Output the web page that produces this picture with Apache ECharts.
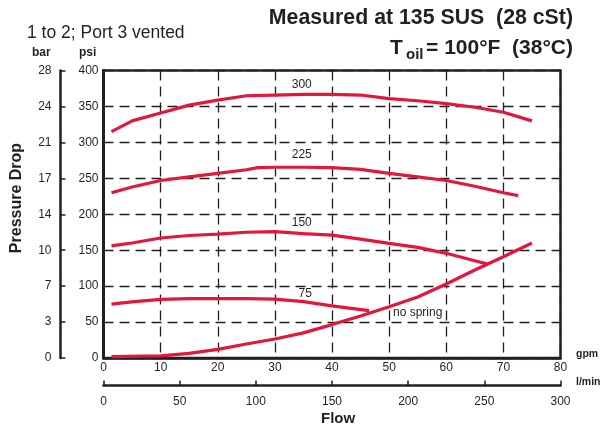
<!DOCTYPE html>
<html><head><meta charset="utf-8">
<script src="https://cdn.jsdelivr.net/npm/echarts@6/dist/echarts.min.js"></script>
<style>html,body{margin:0;padding:0;background:#fff}#c{width:605px;height:427px}</style>
</head><body><div id="c"></div>
<script>
// Data (flow in gpm, pressure drop in psi)
const gpmTicks = [0,10,20,30,40,50,60,70,80];
const psiTicks = [0,50,100,150,200,250,300,350,400];
const barLabels = ['0','3','7','10','14','17','21','24','28'];
const lpmTicks = [0,50,100,150,200,250,300];

const flow300 = [1.4, 5, 10, 15, 20, 25, 30, 35, 40, 45, 50, 55, 60, 65, 70, 75];
const psi300  = [315, 330, 341, 352, 359, 365, 366, 367, 367, 366, 361, 358, 354, 349, 342, 330];

const flow225 = [1.4, 5, 10, 15, 20, 25, 27, 30, 35, 40, 45, 50, 55, 60, 65, 70, 72.6];
const psi225  = [230, 238, 247, 252, 257, 262, 265, 265.5, 265.5, 265, 262.5, 257, 252, 247, 239, 230, 226];

const flow150 = [1.4, 5, 10, 15, 20, 25, 30, 35, 40, 45, 50, 55, 60, 65, 67.1];
const psi150  = [156, 160, 167, 170.5, 172.5, 175, 175.8, 173, 171, 165.5, 159.6, 154, 145.7, 135.4, 131];

const flow75 = [1.4, 5, 10, 15, 20, 25, 30, 35, 40, 43, 46.5];
const psi75  = [75, 78, 81.5, 82.5, 82.5, 82.5, 82, 78.5, 72.5, 69.5, 66];

const flowNS = [1.4, 10, 15, 20, 25, 30, 35, 40, 45, 50, 55, 60, 65, 70, 75];
const psiNS  = [2, 3, 6.5, 12, 19.5, 26.4, 35, 46.5, 58.5, 71.4, 85, 103, 122.5, 141, 160];

const curveNames = ['300', '225', '150', '75', 'no spring'];
const labelFlow  = [34.7, 34.7, 34.7, 35.3, 55];
const labelPsi   = [380, 282.5, 188, 89, 63];

const RED = '#e3173d';
const INK = '#231f20';
const FONT = '"Liberation Sans", Arial, Helvetica, sans-serif';

const zip = (xs, ys) => xs.map((x, i) => [x, ys[i]]);
const lineSeries = (xs, ys) => ({
  type: 'line', data: zip(xs, ys), showSymbol: false, symbol: 'none',
  lineStyle: { color: RED, width: 3.2 }, xAxisIndex: 0, yAxisIndex: 0, z: 5, animation: false
});

const chart = echarts.init(document.getElementById('c'), null, { renderer: 'canvas' });
chart.setOption({
  animation: false,
  textStyle: { fontFamily: FONT },
  grid: { left: 103.5, top: 70.6, width: 457, height: 287.4, show: true, borderColor: INK, borderWidth: 2.5, backgroundColor: 'transparent' },
  xAxis: [
    { type: 'value', min: 0, max: 80, interval: 10, position: 'bottom',
      axisLine: { show: true, onZero: false, lineStyle: { color: INK, width: 2.5 } },
      axisTick: { show: false },
      axisLabel: { color: INK, fontSize: 12, margin: 4, fontFamily: FONT },
      splitLine: { show: true, lineStyle: { color: INK, width: 1.3, type: [10, 6] } } },
    { type: 'value', min: 0, max: 300, interval: 50, position: 'bottom', offset: 27.5,
      axisLine: { show: true, onZero: false, lineStyle: { color: INK, width: 2.5 } },
      axisTick: { show: true, inside: true, length: 5, lineStyle: { color: INK, width: 1.5 } },
      axisLabel: { color: INK, fontSize: 12, margin: 10, fontFamily: FONT },
      splitLine: { show: false } }
  ],
  yAxis: [
    { type: 'value', min: 0, max: 400, interval: 50, position: 'left',
      axisLine: { show: true, onZero: false, lineStyle: { color: INK, width: 3 } },
      axisTick: { show: false },
      axisLabel: { color: INK, fontSize: 12, margin: 5, fontFamily: FONT },
      splitLine: { show: true, lineStyle: { color: INK, width: 1.3, type: [10, 6] } } },
    { type: 'value', min: 0, max: 400, interval: 50, position: 'left', offset: 43,
      axisLine: { show: true, onZero: false, lineStyle: { color: INK, width: 2.5 } },
      axisTick: { show: true, inside: true, length: 5, lineStyle: { color: INK, width: 1.5 } },
      axisLabel: { color: INK, fontSize: 12, margin: 9, fontFamily: FONT,
        formatter: v => barLabels[psiTicks.indexOf(v)] },
      splitLine: { show: false } }
  ],
  series: [
    lineSeries(flow300, psi300),
    lineSeries(flow225, psi225),
    lineSeries(flow150, psi150),
    lineSeries(flow75, psi75),
    lineSeries(flowNS, psiNS),
    { type: 'scatter', xAxisIndex: 0, yAxisIndex: 0, symbolSize: 0, itemStyle: { color: INK, opacity: 1 }, z: 6,
      silent: true,
      data: curveNames.map((n, i) => ({ name: n, value: [labelFlow[i], labelPsi[i]] })),
      label: { show: true, position: 'inside', formatter: p => p.name, color: INK, opacity: 1, fontSize: 12, fontFamily: FONT } }
  ],
  graphic: [
    { type: 'text', left: 27, top: 24, style: { text: '1 to 2; Port 3 vented', fill: INK, font: '17.5px ' + FONT } },
    { type: 'text', right: 32, top: 8, style: { text: 'Measured at 135 SUS  (28 cSt)', fill: INK, font: 'bold 21.3px ' + FONT } },
    { type: 'text', right: 32, top: 38, style: { text: '= 100°F  (38°C)', fill: INK, font: 'bold 21px ' + FONT } },
    { type: 'text', left: 390, top: 38, style: { text: 'T', fill: INK, font: 'bold 21px ' + FONT } },
    { type: 'text', left: 406, top: 47, style: { text: 'oil', fill: INK, font: 'bold 15px ' + FONT } },
    { type: 'text', left: 32, top: 47, style: { text: 'bar', fill: INK, font: 'bold 12px ' + FONT } },
    { type: 'text', left: 79, top: 47, style: { text: 'psi', fill: INK, font: 'bold 12px ' + FONT } },
    { type: 'text', left: 576, top: 349, style: { text: 'gpm', fill: INK, font: 'bold 10.5px ' + FONT } },
    { type: 'text', left: 576, top: 377, style: { text: 'l/min', fill: INK, font: 'bold 10.5px ' + FONT } },
    { type: 'text', left: 321, top: 411, style: { text: 'Flow', fill: INK, font: 'bold 15px ' + FONT } },
    { type: 'text', x: 17, y: 198, rotation: Math.PI / 2,
      style: { text: 'Pressure Drop', fill: INK, font: 'bold 16px ' + FONT, textAlign: 'center', textVerticalAlign: 'middle' } }
  ]
});
</script>
</body></html>
